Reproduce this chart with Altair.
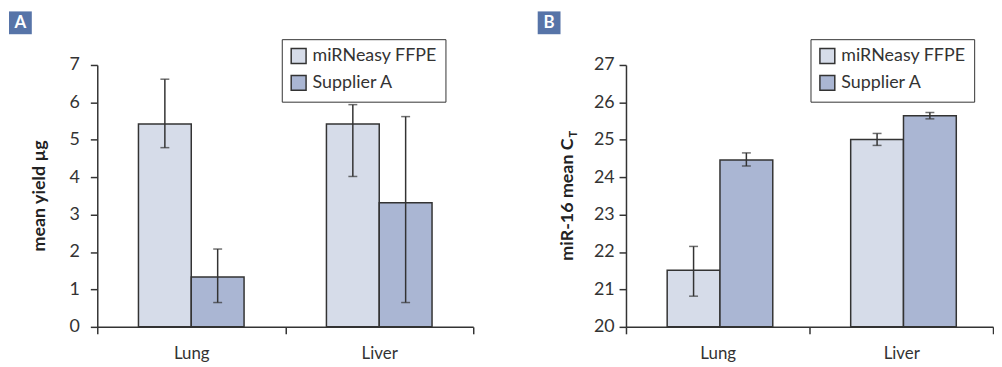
import altair as alt
import pandas as pd

categories = ["Lung", "Liver"]
series = ["miRNeasy FFPE", "Supplier A"]
colors = ["#d6dce9", "#aab6d3"]

# Panel A: mean yield (µg)
yield_ffpe = [5.42, 5.42]
yield_ffpe_lo = [4.79, 4.02]
yield_ffpe_hi = [6.62, 5.94]
yield_supa = [1.33, 3.32]
yield_supa_lo = [0.65, 0.65]
yield_supa_hi = [2.08, 5.62]
yield_ticks = [0, 1, 2, 3, 4, 5, 6, 7]

# Panel B: miR-16 mean CT
ct_ffpe = [21.51, 25.01]
ct_ffpe_lo = [20.82, 24.85]
ct_ffpe_hi = [22.15, 25.17]
ct_supa = [24.46, 25.64]
ct_supa_lo = [24.30, 25.56]
ct_supa_hi = [24.65, 25.73]
ct_ticks = [20, 21, 22, 23, 24, 25, 26, 27]

FONT = "Lato"
INK = "#333333"


def frame(ma, la, ha, mb, lb, hb):
    rows = []
    for i, c in enumerate(categories):
        rows.append(dict(cat=c, series=series[0], mean=ma[i], lo=la[i], hi=ha[i]))
        rows.append(dict(cat=c, series=series[1], mean=mb[i], lo=lb[i], hi=hb[i]))
    return pd.DataFrame(rows)


def panel(df, ticks, width, badge, title_main, title_sub, label_pad):
    x = alt.X("cat:N", sort=categories,
              scale=alt.Scale(paddingInner=0, paddingOuter=0),
              axis=alt.Axis(title=None, labelAngle=0, tickBand="extent",
                            labelFontSize=17, labelPadding=12, tickSize=7))
    xo = alt.XOffset("series:N", sort=series,
                     scale=alt.Scale(domain=series, paddingInner=0, paddingOuter=0.78))
    yscale = alt.Scale(domain=[ticks[0], ticks[-1]], nice=False, zero=False)
    yaxis = alt.Axis(values=ticks, title=None, labelPadding=label_pad, tickSize=7,
                     labelFontSize=18)
    color = alt.Color("series:N", scale=alt.Scale(domain=series, range=colors),
                      legend=alt.Legend(title=None, orient="none", legendX=186, legendY=-26,
                                        fillColor="white", strokeColor=INK, padding=8,
                                        symbolType="square", symbolSize=225,
                                        symbolStrokeColor=INK, symbolStrokeWidth=1.5,
                                        labelFontSize=18, labelFont=FONT, labelColor=INK,
                                        labelOffset=5, rowPadding=5))
    bars = alt.Chart(df).mark_bar(stroke=INK, strokeWidth=1.5).encode(
        x=x, xOffset=xo,
        y=alt.Y("mean:Q", scale=yscale, axis=yaxis),
        y2=alt.datum(ticks[0]),
        color=color,
    )
    rule = alt.Chart(df).mark_rule(color=INK, strokeWidth=1.5).encode(
        x=x, xOffset=xo,
        y=alt.Y("lo:Q", scale=yscale, axis=yaxis), y2="hi:Q")
    cap_hi = alt.Chart(df).mark_tick(color=INK, thickness=1.5, size=9).encode(
        x=x, xOffset=xo, y=alt.Y("hi:Q", scale=yscale, axis=yaxis))
    cap_lo = alt.Chart(df).mark_tick(color=INK, thickness=1.5, size=9).encode(
        x=x, xOffset=xo, y=alt.Y("lo:Q", scale=yscale, axis=yaxis))

    one = alt.Data(values=[{"k": 0}])
    badge_rect = alt.Chart(one).mark_rect(color="#5774a8").encode(
        x=alt.value(-89), x2=alt.value(-66), y=alt.value(-54), y2=alt.value(-31))
    badge_text = alt.Chart(one).mark_text(text=badge, color="white", fontWeight="bold",
                                          fontSize=17, font=FONT).encode(
        x=alt.value(-77.5), y=alt.value(-42.5))
    layers = [bars, rule, cap_hi, cap_lo, badge_rect, badge_text]
    if title_sub:
        t_main = alt.Chart(one).mark_text(text=title_main, angle=270, align="right",
                                          baseline="middle", fontWeight="bold",
                                          fontSize=18, font=FONT, color="#222").encode(
            x=alt.value(-58), y=alt.value(74))
        t_sub = alt.Chart(one).mark_text(text=title_sub, angle=270, align="left",
                                         baseline="middle", fontWeight="bold",
                                         fontSize=11, font=FONT, color="#222").encode(
            x=alt.value(-52), y=alt.value(73))
        layers += [t_main, t_sub]
    else:
        t_main = alt.Chart(one).mark_text(text=title_main, angle=270, align="center",
                                          baseline="middle", fontWeight="bold",
                                          fontSize=18, font=FONT, color="#222").encode(
            x=alt.value(-58), y=alt.value(132))
        layers += [t_main]
    return alt.layer(*layers).properties(width=width, height=264)


dfa = frame(yield_ffpe, yield_ffpe_lo, yield_ffpe_hi, yield_supa, yield_supa_lo, yield_supa_hi)
dfb = frame(ct_ffpe, ct_ffpe_lo, ct_ffpe_hi, ct_supa, ct_supa_lo, ct_supa_hi)

pa = panel(dfa, yield_ticks, 379, "A", "mean yield µg", None, 11)
pb = panel(dfb, ct_ticks, 370, "B", "miR-16 mean C", "T", 5)

chart = alt.hconcat(pa, pb, spacing=64).resolve_scale(color="independent").properties(
    padding={"left": 1, "top": 2, "right": 0, "bottom": 0}
).configure_view(stroke=None).configure_axis(
    grid=False, domainColor=INK, domainWidth=1.5, tickColor=INK, tickWidth=1.5,
    labelFont=FONT, labelColor=INK,
)

chart.save("out.html", embed_options={"renderer": "svg", "actions": False})
